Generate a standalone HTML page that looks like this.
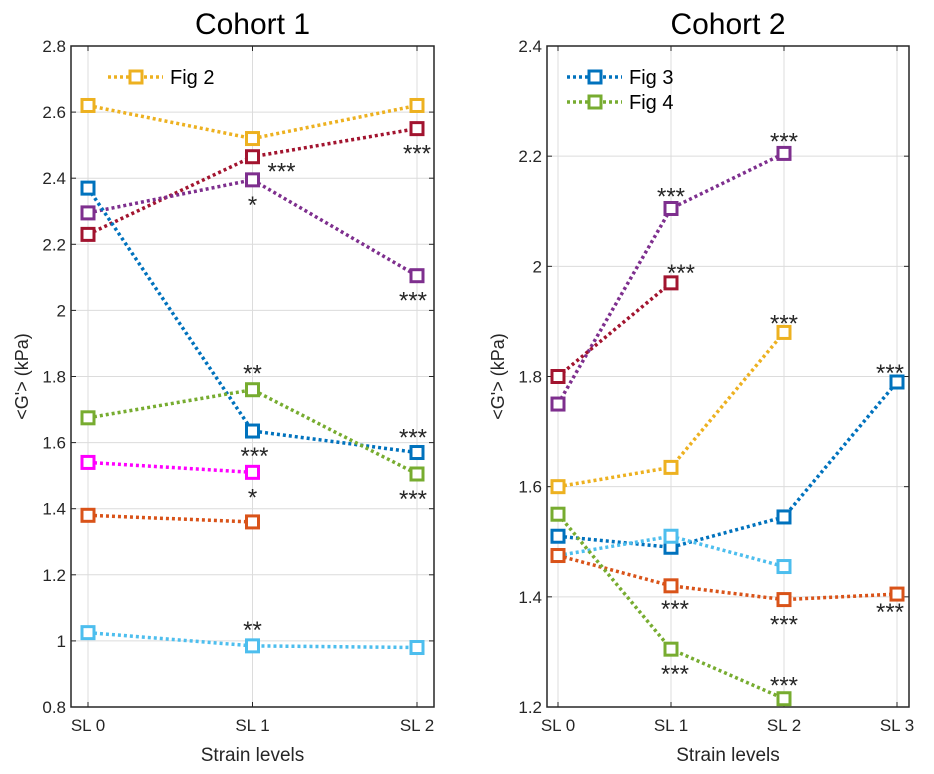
<!DOCTYPE html>
<html><head><meta charset="utf-8"><style>
html,body{margin:0;padding:0;background:#fff;}
svg{display:block;font-family:"Liberation Sans",sans-serif;}
</style></head><body>
<svg id="chart" width="934" height="774" viewBox="0 0 934 774" xmlns="http://www.w3.org/2000/svg"></svg>
<script>
const NS="http://www.w3.org/2000/svg";
const svg=document.getElementById('chart');
const colors={blue:"#0072BD",orange:"#D95319",yellow:"#EDB120",purple:"#7E2F8E",green:"#77AC30",lightblue:"#4DBEEE",darkred:"#A2142F",magenta:"#FF00FF"};

const cats1=["SL 0","SL 1","SL 2"];
const yTicks1=[0.8,1,1.2,1.4,1.6,1.8,2,2.2,2.4,2.6,2.8];
const c1Yellow=[2.62,2.52,2.62];
const c1Darkred=[2.23,2.465,2.55];
const c1Purple=[2.295,2.395,2.105];
const c1Blue=[2.37,1.635,1.57];
const c1Green=[1.675,1.76,1.505];
const c1Magenta=[1.54,1.51];
const c1Orange=[1.38,1.36];
const c1Lightblue=[1.025,0.985,0.98];

const cats2=["SL 0","SL 1","SL 2","SL 3"];
const yTicks2=[1.2,1.4,1.6,1.8,2,2.2,2.4];
const c2Purple=[1.75,2.105,2.205];
const c2Darkred=[1.80,1.97];
const c2Yellow=[1.60,1.635,1.88];
const c2Blue=[1.51,1.49,1.545,1.79];
const c2Lightblue=[1.475,1.51,1.455];
const c2Orange=[1.475,1.42,1.395,1.405];
const c2Green=[1.55,1.305,1.215];

function el(tag,attrs,parent){const e=document.createElementNS(NS,tag);for(const k in attrs)e.setAttribute(k,attrs[k]);(parent||svg).appendChild(e);return e;}

function makePanel(p){
  const g=el('g',{});
  
  
  const x=i=>p.x0+i*(p.x1-p.x0)/(p.cats.length-1);
  const y=v=>p.yb+(v-p.ymin)/(p.ymax-p.ymin)*(p.yt-p.yb);
  // grid
  p.cats.forEach((c,i)=>{el('line',{x1:x(i),x2:x(i),y1:p.yt,y2:p.yb,stroke:"#dcdcdc","stroke-width":1},g);});
  p.yTicks.forEach(v=>{el('line',{x1:p.L,x2:p.R,y1:y(v),y2:y(v),stroke:"#dcdcdc","stroke-width":1},g);});
  // box
  const box=el('rect',{x:p.L,y:p.yt,width:p.R-p.L,height:p.yb-p.yt,fill:"none",stroke:"#262626","stroke-width":1.5},g);
  
  
  // ticks
  p.yTicks.forEach(v=>{
    el('line',{x1:p.L,x2:p.L+5,y1:y(v),y2:y(v),stroke:"#262626"},g);
    el('line',{x1:p.R,x2:p.R-5,y1:y(v),y2:y(v),stroke:"#262626"},g);
    const t=el('text',{x:p.L-5,y:y(v)+6,"text-anchor":"end","font-size":17,fill:"#262626"},g);
    t.textContent=String(v);
    
    
  });
  p.cats.forEach((c,i)=>{
    el('line',{x1:x(i),x2:x(i),y1:p.yb,y2:p.yb-5,stroke:"#262626"},g);
    el('line',{x1:x(i),x2:x(i),y1:p.yt,y2:p.yt+5,stroke:"#262626"},g);
    const t=el('text',{x:x(i),y:p.yb+24,"text-anchor":"middle","font-size":17,fill:"#262626"},g);
    t.textContent=c;
    
    
  });
  // series
  p.series.forEach(s=>{
    const sg=el('g',{},g);
    
    
    const pts=s.data.map((v,i)=>x(i)+","+y(v)).join(" ");
    el('polyline',{points:pts,fill:"none",stroke:s.c,"stroke-width":3.5,"stroke-dasharray":"3 3"},sg);
    s.data.forEach((v,i)=>{
      const m=el('rect',{x:x(i)-6,y:y(v)-6,width:12,height:12,fill:"#fff",stroke:s.c,"stroke-width":3},sg);
      
      
    });
  });
  // stars
  p.stars.forEach(st=>{
    const t=el('text',{x:x(st.i)+(st.dx||0),y:y(st.v)+st.dy,"text-anchor":"middle","font-size":24,fill:"#262626"},g);
    t.textContent=st.t;
    
    
  });
  // title & labels
  const ti=el('text',{x:(p.L+p.R)/2,y:34,"text-anchor":"middle","font-size":30,fill:"#000"},g);
  ti.textContent=p.title;
  const xl=el('text',{x:(p.L+p.R)/2,y:761,"text-anchor":"middle","font-size":19,fill:"#262626"},g);
  xl.textContent="Strain levels";
  const yl=el('text',{x:0,y:0,"text-anchor":"middle","font-size":18,fill:"#262626",transform:`translate(${p.L-43},${(p.yt+p.yb)/2}) rotate(-90)`},g);
  yl.textContent="<G'> (kPa)";
  // legend
  p.legend.forEach((lg,k)=>{
    const lgG=el('g',{},g);
    
    
    const ly=p.yt+31+k*25;
    el('line',{x1:lg.x,x2:lg.x+55,y1:ly,y2:ly,stroke:lg.c,"stroke-width":3.5,"stroke-dasharray":"3 3"},lgG);
    el('rect',{x:lg.x+22,y:ly-6,width:12,height:12,fill:"#fff",stroke:lg.c,"stroke-width":3},lgG);
    const t=el('text',{x:lg.x+62,y:ly+7,"font-size":20,fill:"#000"},lgG);
    t.textContent=lg.t;
  });
}

makePanel({name:"cohort-1-panel",title:"Cohort 1",L:71,R:434,yt:46,yb:707,x0:88,x1:417,ymin:0.8,ymax:2.8,cats:cats1,yTicks:yTicks1,
  series:[
    {name:"series-yellow",c:colors.yellow,data:c1Yellow},
    {name:"series-darkred",c:colors.darkred,data:c1Darkred},
    {name:"series-purple",c:colors.purple,data:c1Purple},
    {name:"series-blue",c:colors.blue,data:c1Blue},
    {name:"series-green",c:colors.green,data:c1Green},
    {name:"series-magenta",c:colors.magenta,data:c1Magenta},
    {name:"series-orange",c:colors.orange,data:c1Orange},
    {name:"series-lightblue",c:colors.lightblue,data:c1Lightblue}],
  stars:[
    {i:1,v:c1Darkred[1],dy:23,dx:29,t:"***"},
    {i:1,v:c1Purple[1],dy:33,t:"*"},
    {i:2,v:c1Darkred[2],dy:33,t:"***"},
    {i:2,v:c1Purple[2],dy:33,dx:-4,t:"***"},
    {i:1,v:c1Green[1],dy:-8,t:"**"},
    {i:1,v:c1Blue[1],dy:33,dx:2,t:"***"},
    {i:2,v:c1Blue[2],dy:-7,dx:-4,t:"***"},
    {i:2,v:c1Green[2],dy:33,dx:-4,t:"***"},
    {i:1,v:c1Magenta[1],dy:33,t:"*"},
    {i:1,v:c1Lightblue[1],dy:-8,t:"**"}],
  legend:[{x:108,c:colors.yellow,t:"Fig 2"}]
});
makePanel({name:"cohort-2-panel",title:"Cohort 2",L:547,R:909,yt:46,yb:707,x0:558,x1:897,ymin:1.2,ymax:2.4,cats:cats2,yTicks:yTicks2,
  series:[
    {name:"series-purple",c:colors.purple,data:c2Purple},
    {name:"series-darkred",c:colors.darkred,data:c2Darkred},
    {name:"series-yellow",c:colors.yellow,data:c2Yellow},
    {name:"series-blue",c:colors.blue,data:c2Blue},
    {name:"series-lightblue",c:colors.lightblue,data:c2Lightblue},
    {name:"series-orange",c:colors.orange,data:c2Orange},
    {name:"series-green",c:colors.green,data:c2Green}],
  stars:[
    {i:1,v:c2Purple[1],dy:-4,t:"***"},
    {i:2,v:c2Purple[2],dy:-4,t:"***"},
    {i:1,v:c2Darkred[1],dy:-2,dx:10,t:"***"},
    {i:2,v:c2Yellow[2],dy:-1,t:"***"},
    {i:3,v:c2Blue[3],dy:-1,dx:-7,t:"***"},
    {i:1,v:c2Orange[1],dy:31,dx:4,t:"***"},
    {i:2,v:c2Orange[2],dy:33,t:"***"},
    {i:3,v:c2Orange[3],dy:26,dx:-7,t:"***"},
    {i:1,v:c2Green[1],dy:33,dx:4,t:"***"},
    {i:2,v:c2Green[2],dy:-5,t:"***"}],
  legend:[{x:567,c:colors.blue,t:"Fig 3"},{x:567,c:colors.green,t:"Fig 4"}]
});
</script>
</body></html>
